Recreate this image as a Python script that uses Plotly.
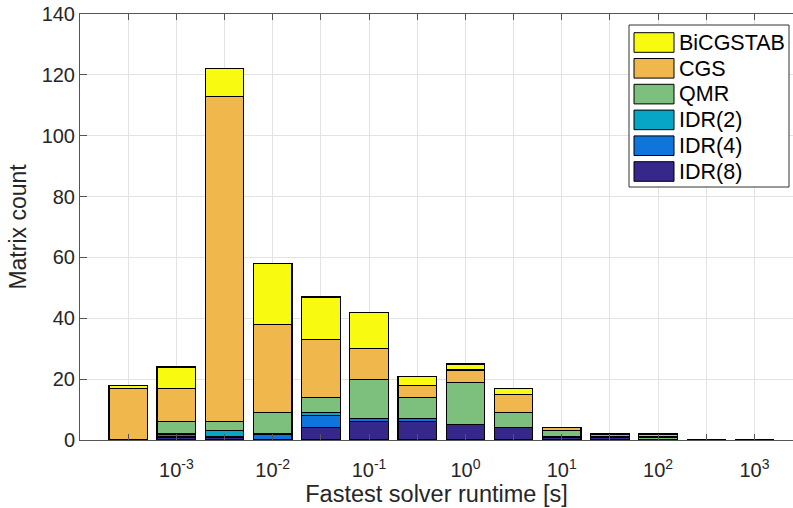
import plotly.graph_objects as go

# Bin centres as log10 of runtime [s]
exponents = [-3.5, -3, -2.5, -2, -1.5, -1, -0.5, 0, 0.5, 1, 1.5, 2, 2.5, 3]
idr8 = [0, 1, 1, 0, 4, 6, 6, 5, 4, 1, 1, 0, 0, 0]
idr4 = [0, 1, 0, 2, 4, 1, 1, 0, 0, 0, 0, 0, 0, 0]
idr2 = [0, 0, 2, 0, 1, 0, 0, 0, 0, 0, 0, 0, 0, 0]
qmr = [0, 4, 3, 7, 5, 13, 7, 14, 5, 2, 1, 1, 0, 0]
cgs = [17, 11, 107, 29, 19, 10, 4, 4, 6, 1, 0, 1, 0, 0]
bicgstab = [1, 7, 9, 20, 14, 12, 3, 2, 2, 0, 0, 0, 0, 0]

series_names = ["IDR(8)", "IDR(4)", "IDR(2)", "QMR", "CGS", "BiCGSTAB"]
series_colors = ["#35288A", "#0F74DC", "#08A6C6", "#7DBF7C", "#F0B84C", "#F8FA10"]
series_values = [idr8, idr4, idr2, qmr, cgs, bicgstab]

major_ticks = [-3, -2, -1, 0, 1, 2, 3]
major_text = ["10<sup>%d</sup>" % v for v in major_ticks]
minor_ticks = [-3.5, -2.5, -1.5, -0.5, 0.5, 1.5, 2.5]

FONT = "Liberation Sans, Arial, Helvetica, sans-serif"
W, H = 793, 508
ML, MR, MT, MB = 80, 0, 14, 68
GRID = "#E3E3E3"
AX = "#555555"

fig = go.Figure()
for name, vals, col in zip(series_names, series_values, series_colors):
    fig.add_trace(go.Bar(
        x=exponents, y=vals, name=name, width=0.4,
        marker=dict(color=col, line=dict(color="#000000", width=1.2)),
        showlegend=False,
    ))

fig.update_layout(
    width=W, height=H,
    margin=dict(l=ML, r=MR, t=MT, b=MB),
    barmode="stack",
    plot_bgcolor="white", paper_bgcolor="white",
    font=dict(family=FONT, size=20, color="#262626"),
    xaxis=dict(
        range=[-4, 3.4], tickmode="array", tickvals=major_ticks, ticktext=major_text,
        ticks="inside", ticklen=6, tickcolor=AX,
        ticklabelstandoff=12,
        showgrid=True, gridcolor=GRID, gridwidth=1,
        minor=dict(tickmode="array", tickvals=minor_ticks, ticks="inside", ticklen=6,
                   tickcolor=AX, showgrid=True, gridcolor=GRID, gridwidth=1),
        showline=True, linecolor=AX, linewidth=1, mirror="ticks",
        zeroline=False,
        tickfont=dict(size=20, color="#262626"),
        title=dict(text="Fastest solver runtime [s]", font=dict(size=23.5, color="#262626"), standoff=4),
    ),
    yaxis=dict(
        range=[0, 140], dtick=20, tick0=0,
        ticks="inside", ticklen=7, tickcolor=AX,
        showgrid=True, gridcolor=GRID, gridwidth=1,
        showline=True, linecolor=AX, linewidth=1, mirror=False,
        zeroline=False,
        tickfont=dict(size=20, color="#262626"),
        title=dict(text="Matrix count", font=dict(size=23, color="#262626"), standoff=8),
    ),
)

# Custom legend drawn in paper coordinates (MATLAB-style wide swatches)
pw = W - ML - MR
ph = H - MT - MB

def px(x):
    return (x - ML) / pw

def py(y):
    return (H - MB - y) / ph

legend_order = ["BiCGSTAB", "CGS", "QMR", "IDR(2)", "IDR(4)", "IDR(8)"]
cmap = dict(zip(series_names, series_colors))
fig.add_shape(type="rect", xref="paper", yref="paper",
              x0=px(629), x1=px(789), y0=py(187), y1=py(25),
              line=dict(color="#333333", width=1), fillcolor="white", layer="above")
for i, nm in enumerate(legend_order):
    top = 32.7 + 25.8 * i
    fig.add_shape(type="rect", xref="paper", yref="paper",
                  x0=px(634), x1=px(674), y0=py(top + 19.6), y1=py(top),
                  line=dict(color="#000000", width=1), fillcolor=cmap[nm], layer="above")
    fig.add_annotation(xref="paper", yref="paper", x=px(677), y=py(top + 10),
                       text=nm, showarrow=False, xanchor="left", yanchor="middle",
                       font=dict(size=21.5, color="#000000", family=FONT))

fig.write_html("out.html")
